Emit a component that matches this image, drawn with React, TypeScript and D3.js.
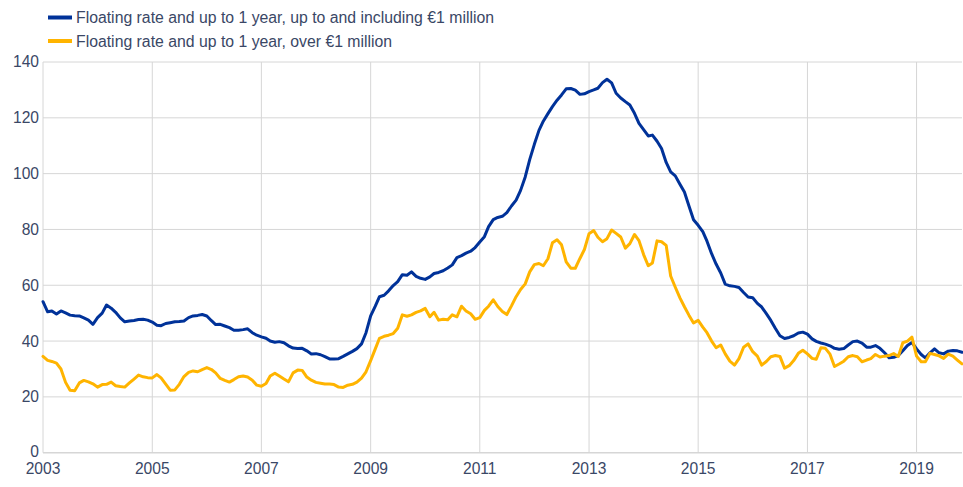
import React from 'react'
import * as d3 from 'd3'

// monthly observations, Jan 2003 .. Nov 2019
const startMonth = new Date(2003, 0, 1)

const smallLoans = [
  54.1, 50.5, 50.8, 49.7, 50.8, 50.1, 49.3, 49.1, 49.0, 48.3, 47.5, 46.0,
  48.4, 50.0, 52.9, 51.8, 50.3, 48.3, 46.9, 47.2, 47.4, 47.7, 47.8, 47.5,
  46.8, 45.7, 45.5, 46.3, 46.6, 46.9, 47.0, 47.2, 48.4, 49.0, 49.2, 49.5,
  49.0, 47.3, 45.9, 46.0, 45.4, 44.8, 43.9, 43.9, 44.1, 44.4, 43.0, 42.1,
  41.5, 41.0, 40.0, 39.6, 39.8, 39.4, 38.3, 37.5, 37.3, 37.4, 36.5, 35.4,
  35.5, 35.1, 34.4, 33.6, 33.6, 33.7, 34.5, 35.4, 36.3, 37.3, 39.0, 43.0,
  49.0, 52.5, 55.9, 56.4, 58.0, 59.9, 61.3, 63.8, 63.6, 64.8, 63.2, 62.5,
  62.1, 63.0, 64.2, 64.6, 65.2, 66.2, 67.3, 69.9, 70.6, 71.5, 72.2, 73.5,
  75.5, 77.4, 81.0, 83.5, 84.3, 84.7, 86.0, 88.4, 90.5, 94.0, 98.8, 105.0,
  110.5, 115.5, 118.8, 121.5, 124.0, 126.3, 128.2, 130.4, 130.5, 129.9, 128.4, 128.6,
  129.4, 130.0, 130.6, 132.6, 133.8, 132.5, 128.8, 127.1, 125.8, 124.6, 121.6, 118.0,
  115.8, 113.5, 113.8, 111.6, 109.0, 104.0, 100.6, 99.2, 96.2, 93.4, 88.3, 83.5,
  81.5, 79.2, 75.8, 71.3, 67.6, 64.4, 60.4, 59.8, 59.6, 59.2, 57.4, 55.8,
  55.5, 53.5, 52.2, 49.8, 47.4, 44.5, 41.9, 40.9, 41.3, 41.9, 42.9, 43.2,
  42.5, 40.8, 39.9, 39.3, 38.9, 38.3, 37.4, 37.1, 37.3, 38.6, 39.8, 40.0,
  39.3, 37.8, 37.8, 38.4, 37.4, 35.8, 34.0, 34.2, 34.8, 36.5, 38.4, 39.5,
  37.2, 35.2, 34.0, 35.8, 37.2, 35.8, 35.4, 36.4, 36.6, 36.5, 36.0,
]

const largeLoans = [
  34.5, 33.1, 32.7, 32.1, 30.0, 25.2, 22.4, 22.2, 25.0, 25.9, 25.4, 24.7,
  23.5, 24.4, 24.5, 25.3, 24.0, 23.7, 23.5, 25.0, 26.4, 27.8, 27.2, 26.9,
  26.8, 28.0, 26.8, 24.6, 22.4, 22.5, 24.5, 27.3, 28.8, 29.3, 29.0, 29.8,
  30.5, 29.8, 28.6, 26.6, 25.9, 25.3, 26.2, 27.2, 27.5, 27.1, 26.0, 24.2,
  23.8, 24.8, 27.5, 28.5, 27.5, 26.4, 25.4, 28.6, 29.6, 29.5, 27.1, 26.0,
  25.2, 24.9, 24.6, 24.6, 24.4, 23.5, 23.4, 24.2, 24.5, 25.3, 26.7, 29.0,
  33.0, 37.2, 41.0, 41.7, 42.1, 42.7, 44.6, 49.4, 48.9, 49.4, 50.3, 50.8,
  51.7, 48.7, 50.3, 47.5, 47.8, 47.6, 49.4, 48.7, 52.5, 50.8, 49.8, 47.8,
  48.4, 51.0, 52.5, 54.8, 52.4, 50.6, 49.5, 52.6, 55.9, 58.5, 60.5, 64.8,
  67.4, 67.8, 67.0, 69.5, 75.2, 76.3, 74.5, 68.4, 66.1, 66.1, 69.6, 72.8,
  78.5, 79.6, 77.2, 75.6, 76.7, 79.8, 78.6, 77.3, 73.3, 74.9, 78.2, 76.0,
  71.0, 67.0, 68.0, 75.9, 75.6, 74.3, 63.3, 59.3, 55.5, 52.3, 49.2, 46.5,
  47.4, 45.0, 43.0, 40.0, 37.6, 38.6, 35.4, 32.8, 31.4, 33.7, 37.8, 39.0,
  36.2, 34.6, 31.4, 32.7, 34.4, 34.8, 34.5, 30.3, 31.2, 33.0, 35.6, 36.7,
  35.4, 33.8, 33.5, 37.6, 37.4, 35.3, 30.9, 31.8, 32.8, 34.4, 34.8, 34.4,
  32.6, 33.2, 33.7, 35.2, 34.3, 34.6, 34.8, 35.5, 34.5, 39.4, 40.0, 41.4,
  34.6, 32.6, 32.6, 35.6, 35.2, 34.7, 33.8, 35.3, 34.6, 33.2, 31.8,
]

const seriesNames = [
  'Floating rate and up to 1 year, up to and including €1 million',
  'Floating rate and up to 1 year, over €1 million',
]
const seriesColors = ['#003299', '#ffb400']

const yTicks = [0, 20, 40, 60, 80, 100, 120, 140]
const xTickYears = [2003, 2005, 2007, 2009, 2011, 2013, 2015, 2017, 2019]

const W = 963
const H = 487
const font = '"Liberation Sans", Arial, sans-serif'
const textColor = '#3a4766'
const gridColor = '#d6d6d6'

const App = () => {
  const dates = smallLoans.map((_, i) => d3.timeMonth.offset(startMonth, i))

  const x = d3.scaleTime()
    .domain([dates[0], dates[dates.length - 1]])
    .range([43, 962])

  const y = d3.scaleLinear()
    .domain([0, 140])
    .range([452.7, 62])

  const line = d3.line<number>()
    .x((_, i) => x(dates[i]))
    .y((d) => y(d))

  const series = [smallLoans, largeLoans]

  return (
    <svg width={W} height={H} style={{ position: 'absolute', left: 0, top: 0, background: '#fff' }}>
      {/* legend */}
      {seriesNames.map((name, i) => (
        <g key={name} transform={`translate(0,${17.5 + i * 23.5})`}>
          <line x1={48} x2={72} y1={0} y2={0} stroke={seriesColors[i]} strokeWidth={4} />
          <text x={76} y={0} dy="0.35em" fontFamily={font} fontSize={15.8} fill={textColor}>{name}</text>
        </g>
      ))}

      {/* horizontal grid + y labels */}
      {yTicks.map((t) => (
        <g key={t}>
          <line x1={43} x2={962} y1={y(t)} y2={y(t)} stroke={gridColor} strokeWidth={t === 0 ? 1.5 : 1} />
          <text x={39} y={y(t) - (t === 0 ? 1 : 0)} dy="0.35em" textAnchor="end" fontFamily={font} fontSize={15.6} fill={textColor}>{t}</text>
        </g>
      ))}

      {/* vertical grid + x labels */}
      {xTickYears.map((yr) => {
        const px = x(new Date(yr, 0, 1))
        return (
          <g key={yr}>
            <line x1={px} x2={px} y1={y(140)} y2={y(0)} stroke={gridColor} strokeWidth={1} />
            <text x={px} y={473.5} textAnchor="middle" fontFamily={font} fontSize={15.6} fill={textColor}>{yr}</text>
          </g>
        )
      })}

      {series.map((s, i) => (
        <path key={i} d={line(s) || ''} fill="none" stroke={seriesColors[i]} strokeWidth={3}
          strokeLinejoin="round" strokeLinecap="round" />
      ))}
    </svg>
  )
}

export default App
